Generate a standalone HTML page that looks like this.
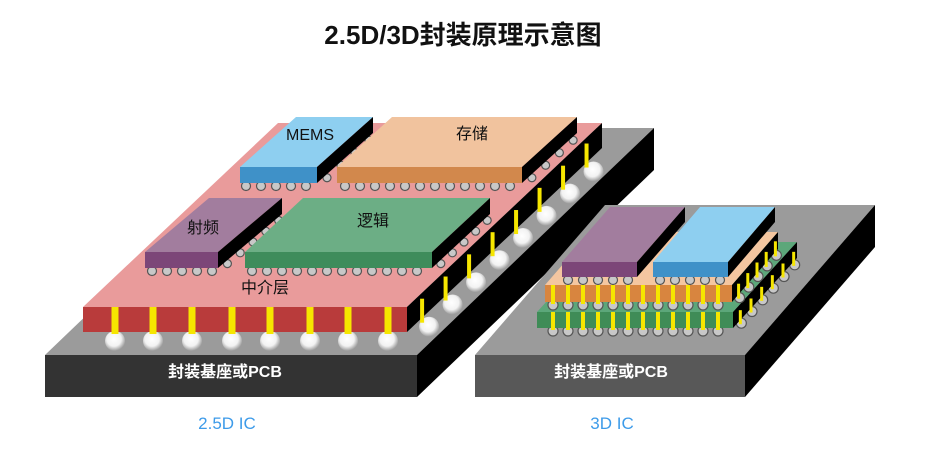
<!DOCTYPE html>
<html><head><meta charset="utf-8"><style>
html,body{margin:0;padding:0;background:#fff;width:938px;height:468px;overflow:hidden}
svg{display:block}
text{font-family:"Liberation Sans","Noto Sans CJK SC",sans-serif}
</style></head><body>
<svg id="s" width="938" height="468" viewBox="0 0 938 468" xmlns="http://www.w3.org/2000/svg">
<defs>
<radialGradient id="ball" cx="0.45" cy="0.4" r="0.6"><stop offset="0" stop-color="#fff"/><stop offset="0.6" stop-color="#f2f2f2"/><stop offset="1" stop-color="#9a9a9a"/></radialGradient>
</defs>
<g id="g"></g>
<text x="463" y="44" text-anchor="middle" font-size="26" font-weight="bold" fill="#111">2.5D/3D封装原理示意图</text>
<text x="310" y="140" text-anchor="middle" font-size="16" fill="#111">MEMS</text>
<text x="472" y="139" text-anchor="middle" font-size="16" fill="#111">存储</text>
<text x="203" y="233" text-anchor="middle" font-size="16" fill="#111">射频</text>
<text x="373" y="226" text-anchor="middle" font-size="16" fill="#111">逻辑</text>
<text x="265" y="293" text-anchor="middle" font-size="16" fill="#111">中介层</text>
<text x="225" y="377" text-anchor="middle" font-size="16" font-weight="bold" fill="#fff">封装基座或PCB</text>
<text x="611" y="377" text-anchor="middle" font-size="16" font-weight="bold" fill="#fff">封装基座或PCB</text>
<text x="227" y="429" text-anchor="middle" font-size="17" fill="#3d9be9">2.5D IC</text>
<text x="612" y="429" text-anchor="middle" font-size="17" fill="#3d9be9">3D IC</text>
</svg>
<script>
var g=document.getElementById('g'),NS='http://www.w3.org/2000/svg';
function el(t,a){var e=document.createElementNS(NS,t);for(var k in a)e.setAttribute(k,a[k]);g.appendChild(e);return e;}
function P(p,f){el('polygon',{points:p.join(' '),fill:f});}
function box(l,r,t,b,dx,dy,tf,ff,sf){
 P([l,t,r,t,r+dx,t-dy,l+dx,t-dy],tf);
 P([l,t,r,t,r,b,l,b],ff);
 P([r,t,r+dx,t-dy,r+dx,b-dy,r,b],sf||'#000');
}
function bump(x,y,r){el('circle',{cx:x,cy:y,r:r,fill:'#c8c8c8',stroke:'#555','stroke-width':1.2});}
function ball(x,y,r){el('circle',{cx:x,cy:y,r:r,fill:'url(#ball)'});}
function pin(x,y1,y2,w){el('rect',{x:x-w/2,y:y1,width:w,height:y2-y1,fill:'#f6e600'});}
function rowBumps(x0,x1,y,step,r){for(var x=x0;x<=x1;x+=step)bump(x,y,r);}
function sideBumps(r,b,dx,dy,n,rad){for(var i=0;i<n;i++){var t=(i+0.5)/n;bump(r+dx*t+3,b-dy*t+1,rad);}}
// ===== 2.5D =====
box(45,417,355,397,237,227,'#9b9b9b','#333');
// side balls under interposer
for(var i=7;i>=0;i--){var t=(i+0.6)/8.3;ball(407+195*t+8,332-184*t+8,10);}
for(var x of [115,153,192,232,270,310,348,388])ball(x,341,10);
box(83,407,307,332,195,184,'#e99b9b','#b93b3b');
for(var x of [115,153,192,232,270,310,348,388])pin(x,307,334,7);
for(var i=0;i<8;i++){var t=(i+0.6)/8.3;pin(407+195*t+1,307-184*t+5,332-184*t+4,4);}
// chip bumps
rowBumps(246,312,186,15,4.5);sideBumps(317,183,56,50,4,4);
rowBumps(345,515,186,15,4.5);sideBumps(522,183,55,50,4,4);
rowBumps(152,215,271,15,4.5);sideBumps(218,268,64,54,5,4);
rowBumps(252,430,271,15,4.5);sideBumps(432,268,58,54,5,4);
box(240,317,167,183,56,50,'#8ecff0','#3f91c8');
box(337,522,167,183,55,50,'#f1c39e','#d2884c');
box(145,218,252,268,64,54,'#a27d9e','#7c4678');
box(245,432,252,268,58,54,'#6cae85','#3e8c5b');
// ===== 3D =====
box(475,745,355,397,130,150,'#9b9b9b','#585858');
rowBumps(553,718,331,15,5);sideBumps(733,328,64,70,6,5);
box(537,733,312,328,64,70,'#5ca77a','#3f8c57');
for(var k=0;k<12;k++)pin(553+15*k,312,330,4);
for(var i=0;i<6;i++){var t=(i+0.5)/6;pin(733+64*t+2,312-70*t+4,328-70*t+2,3);}
rowBumps(553,718,305,15,5);sideBumps(732,302,46,53,5,5);
box(545,732,285,302,46,53,'#f4c6a0','#d8853f');
for(var k=0;k<12;k++)pin(553+15*k,285,304,4);
for(var i=0;i<5;i++){var t=(i+0.5)/5;pin(732+46*t+2,285-53*t+4,302-53*t+2,3);}
rowBumps(568,632,280,15,4.5);rowBumps(660,722,280,15,4.5);
box(562,637,262,277,48,55,'#a27d9e','#7c4678');
box(653,728,262,277,47,55,'#8ecff0','#3f91c8');
</script>
</body></html>
